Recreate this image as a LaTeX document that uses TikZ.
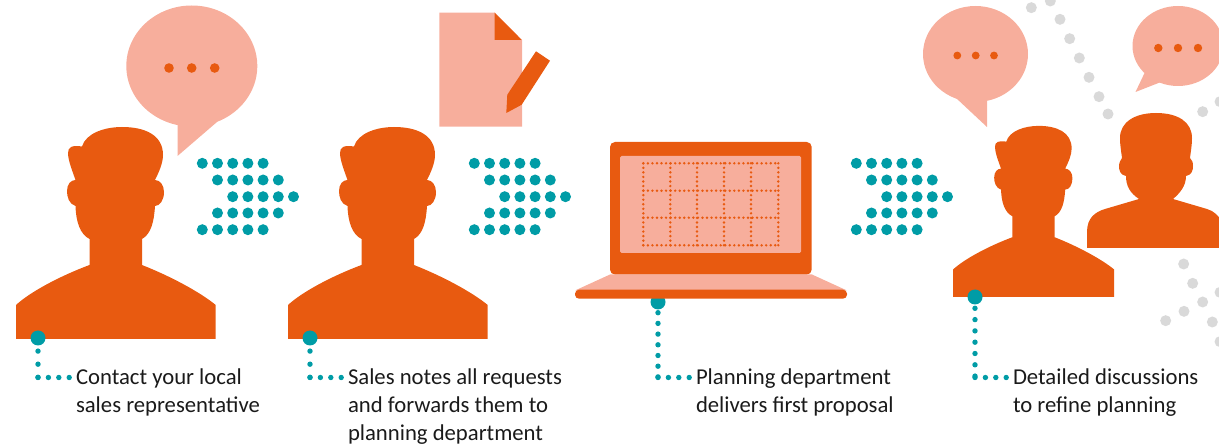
\documentclass[tikz,border=0pt]{standalone}
\usepackage{fontspec}
\setmainfont{Carlito}
\definecolor{org}{HTML}{E85A10}
\definecolor{pnk}{HTML}{F7AE9C}
\definecolor{tel}{HTML}{009CA6}
\definecolor{gry}{HTML}{D9D9D9}
\definecolor{ink}{HTML}{1A1A1A}
\newcommand{\personpath}{(16,339) -- (16,305) .. controls (30,292) and (60,276) .. (89.5,265) -- (89.5,239) .. controls (80,234) and (76,222) .. (75.5,206) .. controls (69,204) and (67,197) .. (67,191) .. controls (67,184) and (71,180) .. (75.5,180) .. controls (72,170) and (68,160) .. (68,153) .. controls (68,147) and (72,145) .. (82,146.5) .. controls (86,133) and (105,127) .. (122,127) .. controls (145,127) and (163,135) .. (163,155) .. controls (163,163) and (159,172) .. (155,180) .. controls (160,180) and (164,185) .. (164,192) .. controls (164,200) and (160,206) .. (155,206) .. controls (154,222) and (151,234) .. (142,239) -- (142,265) .. controls (170,276) and (200,292) .. (215.7,305) -- (215.7,339) -- cycle}
\newcommand{\chevron}[1]{%
  \foreach \r/\s/\yy in {0/0/163.3,1/1/180,2/2/196.7,1/3/213,0/4/229.7}{%
    \foreach \c in {0,...,4}{%
      \fill[tel] ({#1+15.2*(\r+\c)},\yy) circle (5.5);}}}
\tikzset{
  x=1pt,y=-1pt,
  bigdot/.style={circle,fill=tel,minimum size=15pt,inner sep=0pt,outer sep=0pt},
  captext/.style={anchor=north west,align=left,inner sep=0pt,outer sep=0pt,text=ink,font=\fontsize{22.7}{28}\selectfont},
  leadv/.style={draw=tel,line width=5.4pt,line cap=round,dash pattern=on 0pt off #1},
  leadh/.style={draw=tel,line width=5.4pt,line cap=round,dash pattern=on 0pt off 10.4pt},
  bub/.style={fill=pnk},
  dotty/.style={draw=org,line width=2.7pt,line cap=round,dash pattern=on 0pt off 4.55pt},
}
\begin{document}
\begin{tikzpicture}
\useasboundingbox (0,0) rectangle (1219,446);
\begin{scope}
\clip (0,0) rectangle (1219,446);
% grey background dots
\foreach \p/\q in {394/23,451/3,480/58,509/116,538/174,567/232,597/290,624/342,908/335,960/305,851/792,878/850,960/877,908/906,852/934,797/962,937/966,960/1025}{
  \fill[gry] ({900+\p/3},{\q/3}) circle (5.5);}
% bubbles
\fill[bub] (191.8,66) ellipse [x radius=65.5,y radius=60.5];
\fill[bub] (177.5,120) -- (177.5,156) -- (217,122) -- (200,110) -- cycle;
\foreach \a in {169,191.7,214.7}{\fill[org] (\a,68) circle (4.8);}
\fill[bub] (975.5,54) ellipse [x radius=52.5,y radius=48];
\fill[bub] (987,95) -- (987,127) -- (956,98) -- (965,90) -- cycle;
\foreach \a in {957.3,975.7,994}{\fill[org] (\a,55.5) circle (3.9);}
\fill[bub] (1178,46) ellipse [x radius=45.5,y radius=40];
\fill[bub] (1145,72) -- (1135.5,92) -- (1161,82) -- (1165,70) -- cycle;
\foreach \a in {1158.3,1178,1198}{\fill[org] (\a,48) circle (4.2);}
% document
\fill[pnk] (439.3,12.7) -- (494.7,12.7) -- (522,40) -- (522,126.7) -- (439.3,126.7) -- cycle;
\fill[org] (494.7,12.7) -- (521.7,40) -- (494.7,40) -- cycle;
\fill[org] (536,51.3) -- (550,60.7) -- (521.7,104.7) -- (506.3,113) -- (507.3,94.7) -- cycle;
% chevrons
\chevron{202.3}
\chevron{474.3}
\chevron{856.3}
% persons
\fill[org] \personpath;
\begin{scope}[xshift=272pt]
\fill[org] \personpath;
\end{scope}
\fill[org] (1087,248) -- (1087,232) .. controls (1087,218) and (1095,212) .. (1105,209) -- (1139,199) .. controls (1130,193) and (1126,186) .. (1126,176) .. controls (1120,175) and (1119,170) .. (1119,166) .. controls (1119,162) and (1121,160) .. (1122,158) .. controls (1121,150) and (1120,145) .. (1120,138) .. controls (1120,122) and (1135,113) .. (1156,113) .. controls (1178,113) and (1192,122) .. (1192,138) .. controls (1192,145) and (1191,150) .. (1190,158) .. controls (1192,160) and (1193,162) .. (1193,166) .. controls (1193,170) and (1192,175) .. (1186,176) .. controls (1186,186) and (1180,193) .. (1173,199) -- (1207,209) .. controls (1214,211) and (1219,216) .. (1222,222) -- (1222,248) -- cycle;
\begin{scope}[shift={(940.1pt,-23.4pt)},x=0.807pt,y=-0.807pt]
\fill[org] \personpath;
\end{scope}
% laptop
\fill[org,rounded corners=5pt] (610,142) rectangle (811.7,274.6);
\fill[pnk,rounded corners=1.5pt] (620,156) rectangle (801,253);
\foreach \gy in {163.3,190.7,217.7,245.3}{\draw[dotty] (643.3,\gy) -- (779,\gy);}
\foreach \gx in {643.3,670.3,697,724,751,778.3}{\draw[dotty] (\gx,163.3) -- (\gx,246);}
\fill[pnk] (575,290.5) -- (610,274.5) -- (812,274.5) -- (847,290.5) -- cycle;
\end{scope}
% captions and leaders
\node[bigdot] (d1) at (38,338) {};
\node[bigdot] (d2) at (310,338) {};
\node[bigdot] (d3) at (658,302) {};
\node[bigdot] (d4) at (975,297) {};
\node[captext] (t1) at (76,368.5) {Contact your local\\sales representative};
\node[captext] (t2) at (348,368.5) {Sales notes all requests\\and forwards them to\\planning department};
\node[captext] (t3) at (696,368.5) {Planning department\\delivers first proposal};
\node[captext] (t4) at (1013,368.5) {Detailed discussions\\to refine planning};
\coordinate (c1) at (38,377.5); \coordinate (e1) at (69.4,377.5);
\coordinate (c2) at (310,377.5); \coordinate (e2) at (341.4,377.5);
\coordinate (c3) at (658,377.5); \coordinate (e3) at (689.4,377.5);
\coordinate (c4) at (975,377.5); \coordinate (e4) at (1006.4,377.5);
\draw[leadv=13.1pt] (d1.center) -- (c1);
\draw[leadv=13.1pt] (d2.center) -- (c2);
\draw[leadv=10.7pt] (d3.center) -- (c3);
\draw[leadv=11.3pt] (d4.center) -- (c4);
\draw[leadh] (c1) -- (e1);
\draw[leadh] (c2) -- (e2);
\draw[leadh] (c3) -- (e3);
\draw[leadh] (c4) -- (e4);
\fill[org,rounded corners=4pt] (575,289.7) rectangle (847,298.7);
\end{tikzpicture}
\end{document}
